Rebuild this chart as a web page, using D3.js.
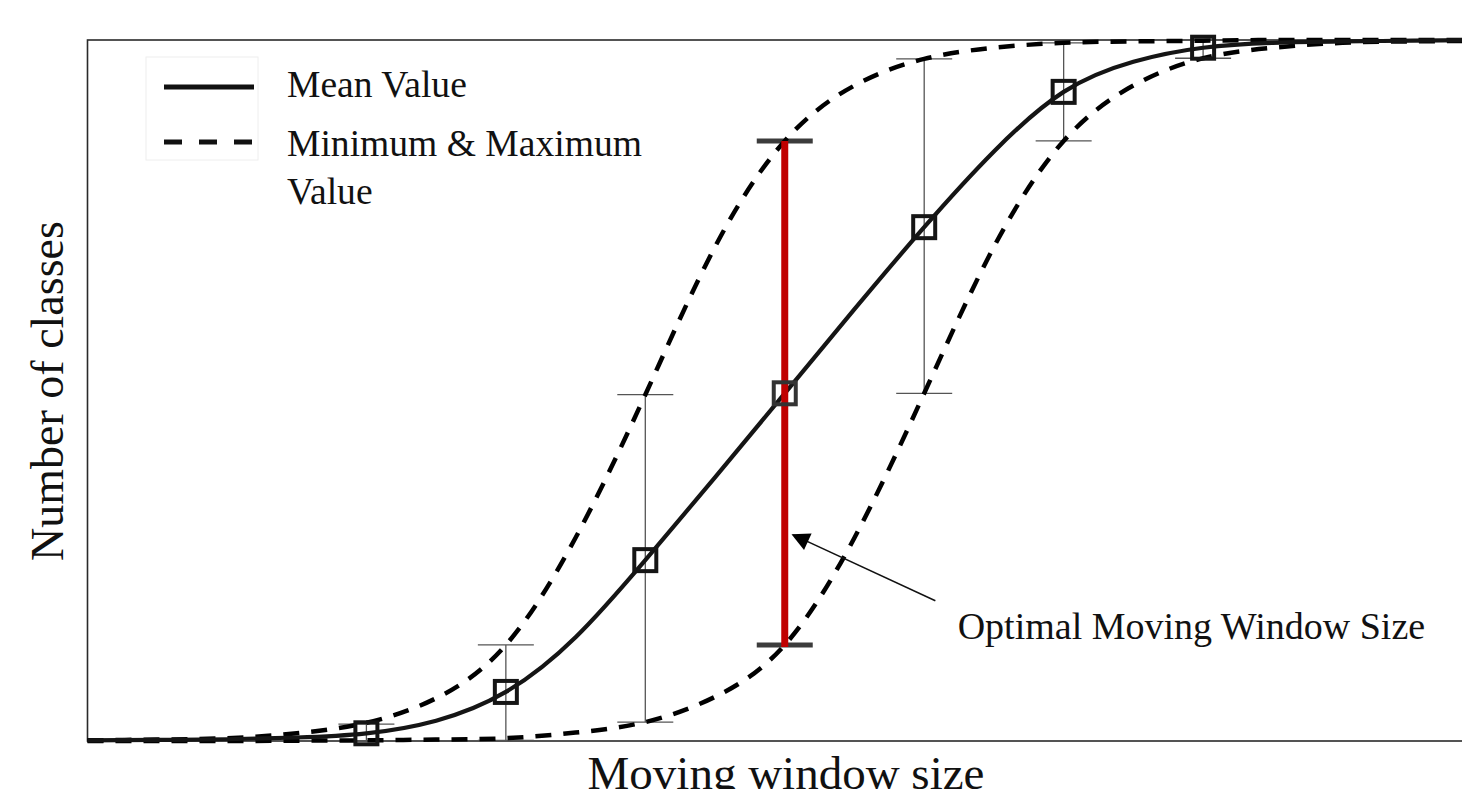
<html>
<head>
<style>
  body { margin: 0; background: #fff; }
  svg { display: block; }
</style>
<script src="https://d3js.org/d3.v7.min.js"></script>
</head>
<body>
<svg width=1462 height=789></svg>
<script>

    // values: x is window size step, y is % of classes
    const curveX   = [0, 0.5, 1, 1.5, 2, 2.5, 3, 3.5, 4, 4.5, 5, 5.5, 6, 6.5, 7, 7.5, 8, 8.5, 9, 9.5, 10];
    const meanVals = [0.1, 0.15, 0.25, 0.5, 1.1, 2.9, 7.0, 14.8, 25.8, 37.6, 49.6, 61.6, 73.3, 84.1, 92.6, 96.9, 98.9, 99.6, 99.8, 99.9, 100];
    const maxVals  = [0.1, 0.2, 0.4, 1.1, 2.6, 6.1, 13.7, 29.0, 49.4, 70.5, 85.6, 93.5, 97.3, 98.9, 99.6, 99.8, 99.9, 100, 100, 100, 100];
    const minVals  = [0, 0, 0, 0.05, 0.1, 0.2, 0.4, 1.2, 2.7, 6.3, 13.7, 29.0, 49.6, 70.5, 85.6, 93.5, 97.4, 98.9, 99.6, 99.8, 99.9];

    // markers and error bars
    const markK    = [2, 3, 4, 5, 6, 7, 8];
    const markMean = [1.1, 7.0, 25.8, 49.6, 73.3, 92.6, 98.9];
    const barLow   = [0, 0.1, 2.7, 13.7, 49.6, 85.6, 97.4];
    const barHigh  = [2.4, 13.7, 49.4, 85.6, 97.3, 99.6, 100];
    const optimalK = 5;

    const legendLabels = ["Mean Value", "Minimum & Maximum", "Value"];
    const note = { text: "Optimal Moving Window Size", tip: [5.06, 29.4], tail: [6.08, 20.0], at: [6.24, 14.6] };

    const svg = d3.select("svg");
    const font = "'Liberation Serif', 'Times New Roman', serif";

    let x = d3.scaleLinear().domain([0, 10]).range([87.5, 1482]);
    let y = d3.scaleLinear().domain([0, 100]).range([741, 40]);

    // frame
    svg.append("rect")
        .attr("x", x(0)).attr("y", y(100))
        .attr("width", x(10) - x(0)).attr("height", y(0) - y(100))
        .attr("fill", "none")
        .attr("stroke", "#2a2a2a")
        .attr("stroke-width", 1.6);

    let line = vals => d3.line()
        .x((d, i) => x(curveX[i]))
        .y(d => y(d))
        .curve(d3.curveNatural)(vals);

    // error bars (thin grey)
    const bars = svg.append("g");
    markK.forEach((k, i) => {
        if (k === optimalK) return;
        const g = bars.append("g").attr("stroke", "#555").attr("stroke-width", 1.3);
        g.append("line").attr("x1", x(k)).attr("x2", x(k)).attr("y1", y(barLow[i])).attr("y2", y(barHigh[i]));
        [barLow[i], barHigh[i]].forEach(v => g.append("line")
            .attr("x1", x(k) - 28).attr("x2", x(k) + 28).attr("y1", y(v)).attr("y2", y(v)));
    });

    // optimal bar caps
    const oi = markK.indexOf(optimalK);
    [barLow[oi], barHigh[oi]].forEach(v => svg.append("line")
        .attr("x1", x(optimalK) - 28).attr("x2", x(optimalK) + 28)
        .attr("y1", y(v)).attr("y2", y(v))
        .attr("stroke", "#3c3c3c").attr("stroke-width", 5));

    // curves
    svg.append("path").attr("d", line(maxVals))
        .attr("fill", "none").attr("stroke", "#000").attr("stroke-width", 4.5)
        .attr("stroke-dasharray", "16,12");
    svg.append("path").attr("d", line(minVals))
        .attr("fill", "none").attr("stroke", "#000").attr("stroke-width", 4.5)
        .attr("stroke-dasharray", "16,12");
    svg.append("path").attr("d", line(meanVals))
        .attr("fill", "none").attr("stroke", "#151515").attr("stroke-width", 4.2);

    // optimal red bar
    svg.append("line")
        .attr("x1", x(optimalK)).attr("x2", x(optimalK))
        .attr("y1", y(barLow[oi]) + 2).attr("y2", y(barHigh[oi]))
        .attr("stroke", "#c00000").attr("stroke-width", 7);

    // square markers
    svg.append("g")
        .selectAll("rect")
        .data(markK)
        .join("rect")
            .attr("x", d => x(d) - 11)
            .attr("y", (d, i) => y(markMean[i]) - 11)
            .attr("width", 22).attr("height", 22)
            .attr("fill", "none")
            .attr("stroke", d => d === optimalK ? "#333" : "#151515")
            .attr("stroke-width", 4);

    // annotation arrow
    svg.append("defs").append("marker")
        .attr("id", "head")
        .attr("viewBox", "0 0 10 10")
        .attr("refX", 9).attr("refY", 5)
        .attr("markerWidth", 24).attr("markerHeight", 18)
        .attr("markerUnits", "userSpaceOnUse")
        .attr("orient", "auto")
        .append("path").attr("d", "M0,0L10,5L0,10z").attr("fill", "#000");

    svg.append("line")
        .attr("x1", x(note.tail[0])).attr("y1", y(note.tail[1]))
        .attr("x2", x(note.tip[0])).attr("y2", y(note.tip[1]))
        .attr("stroke", "#111").attr("stroke-width", 1.5)
        .attr("marker-end", "url(#head)");

    svg.append("text")
        .attr("x", x(note.at[0])).attr("y", y(note.at[1]))
        .style("font", `38px ${font}`)
        .attr("fill", "#111")
        .text(note.text);

    // legend
    const legend = svg.append("g");
    legend.append("rect")
        .attr("x", 146).attr("y", 57).attr("width", 112).attr("height", 103)
        .attr("fill", "none").attr("stroke", "#eeeeee").attr("stroke-width", 1);
    legend.append("line").attr("x1", 164).attr("x2", 254).attr("y1", 87).attr("y2", 87)
        .attr("stroke", "#111").attr("stroke-width", 5);
    legend.append("line").attr("x1", 164).attr("x2", 254).attr("y1", 142).attr("y2", 142)
        .attr("stroke", "#111").attr("stroke-width", 5).attr("stroke-dasharray", "18,17");
    legend.selectAll("text")
        .data(legendLabels)
        .join("text")
            .attr("x", 287)
            .attr("y", (d, i) => [97, 156, 204][i])
            .style("font", `37.6px ${font}`)
            .attr("fill", "#111")
            .text(d => d);

    // axis titles
    svg.append("text")
        .attr("transform", "translate(63,391) rotate(-90)")
        .attr("text-anchor", "middle")
        .style("font", `46px ${font}`)
        .attr("fill", "#111")
        .text("Number of classes");

    svg.append("text")
        .attr("x", 786).attr("y", 789)
        .attr("text-anchor", "middle")
        .style("font", `47px ${font}`)
        .attr("fill", "#111")
        .text("Moving window size");

</script>
</body>
</html>
